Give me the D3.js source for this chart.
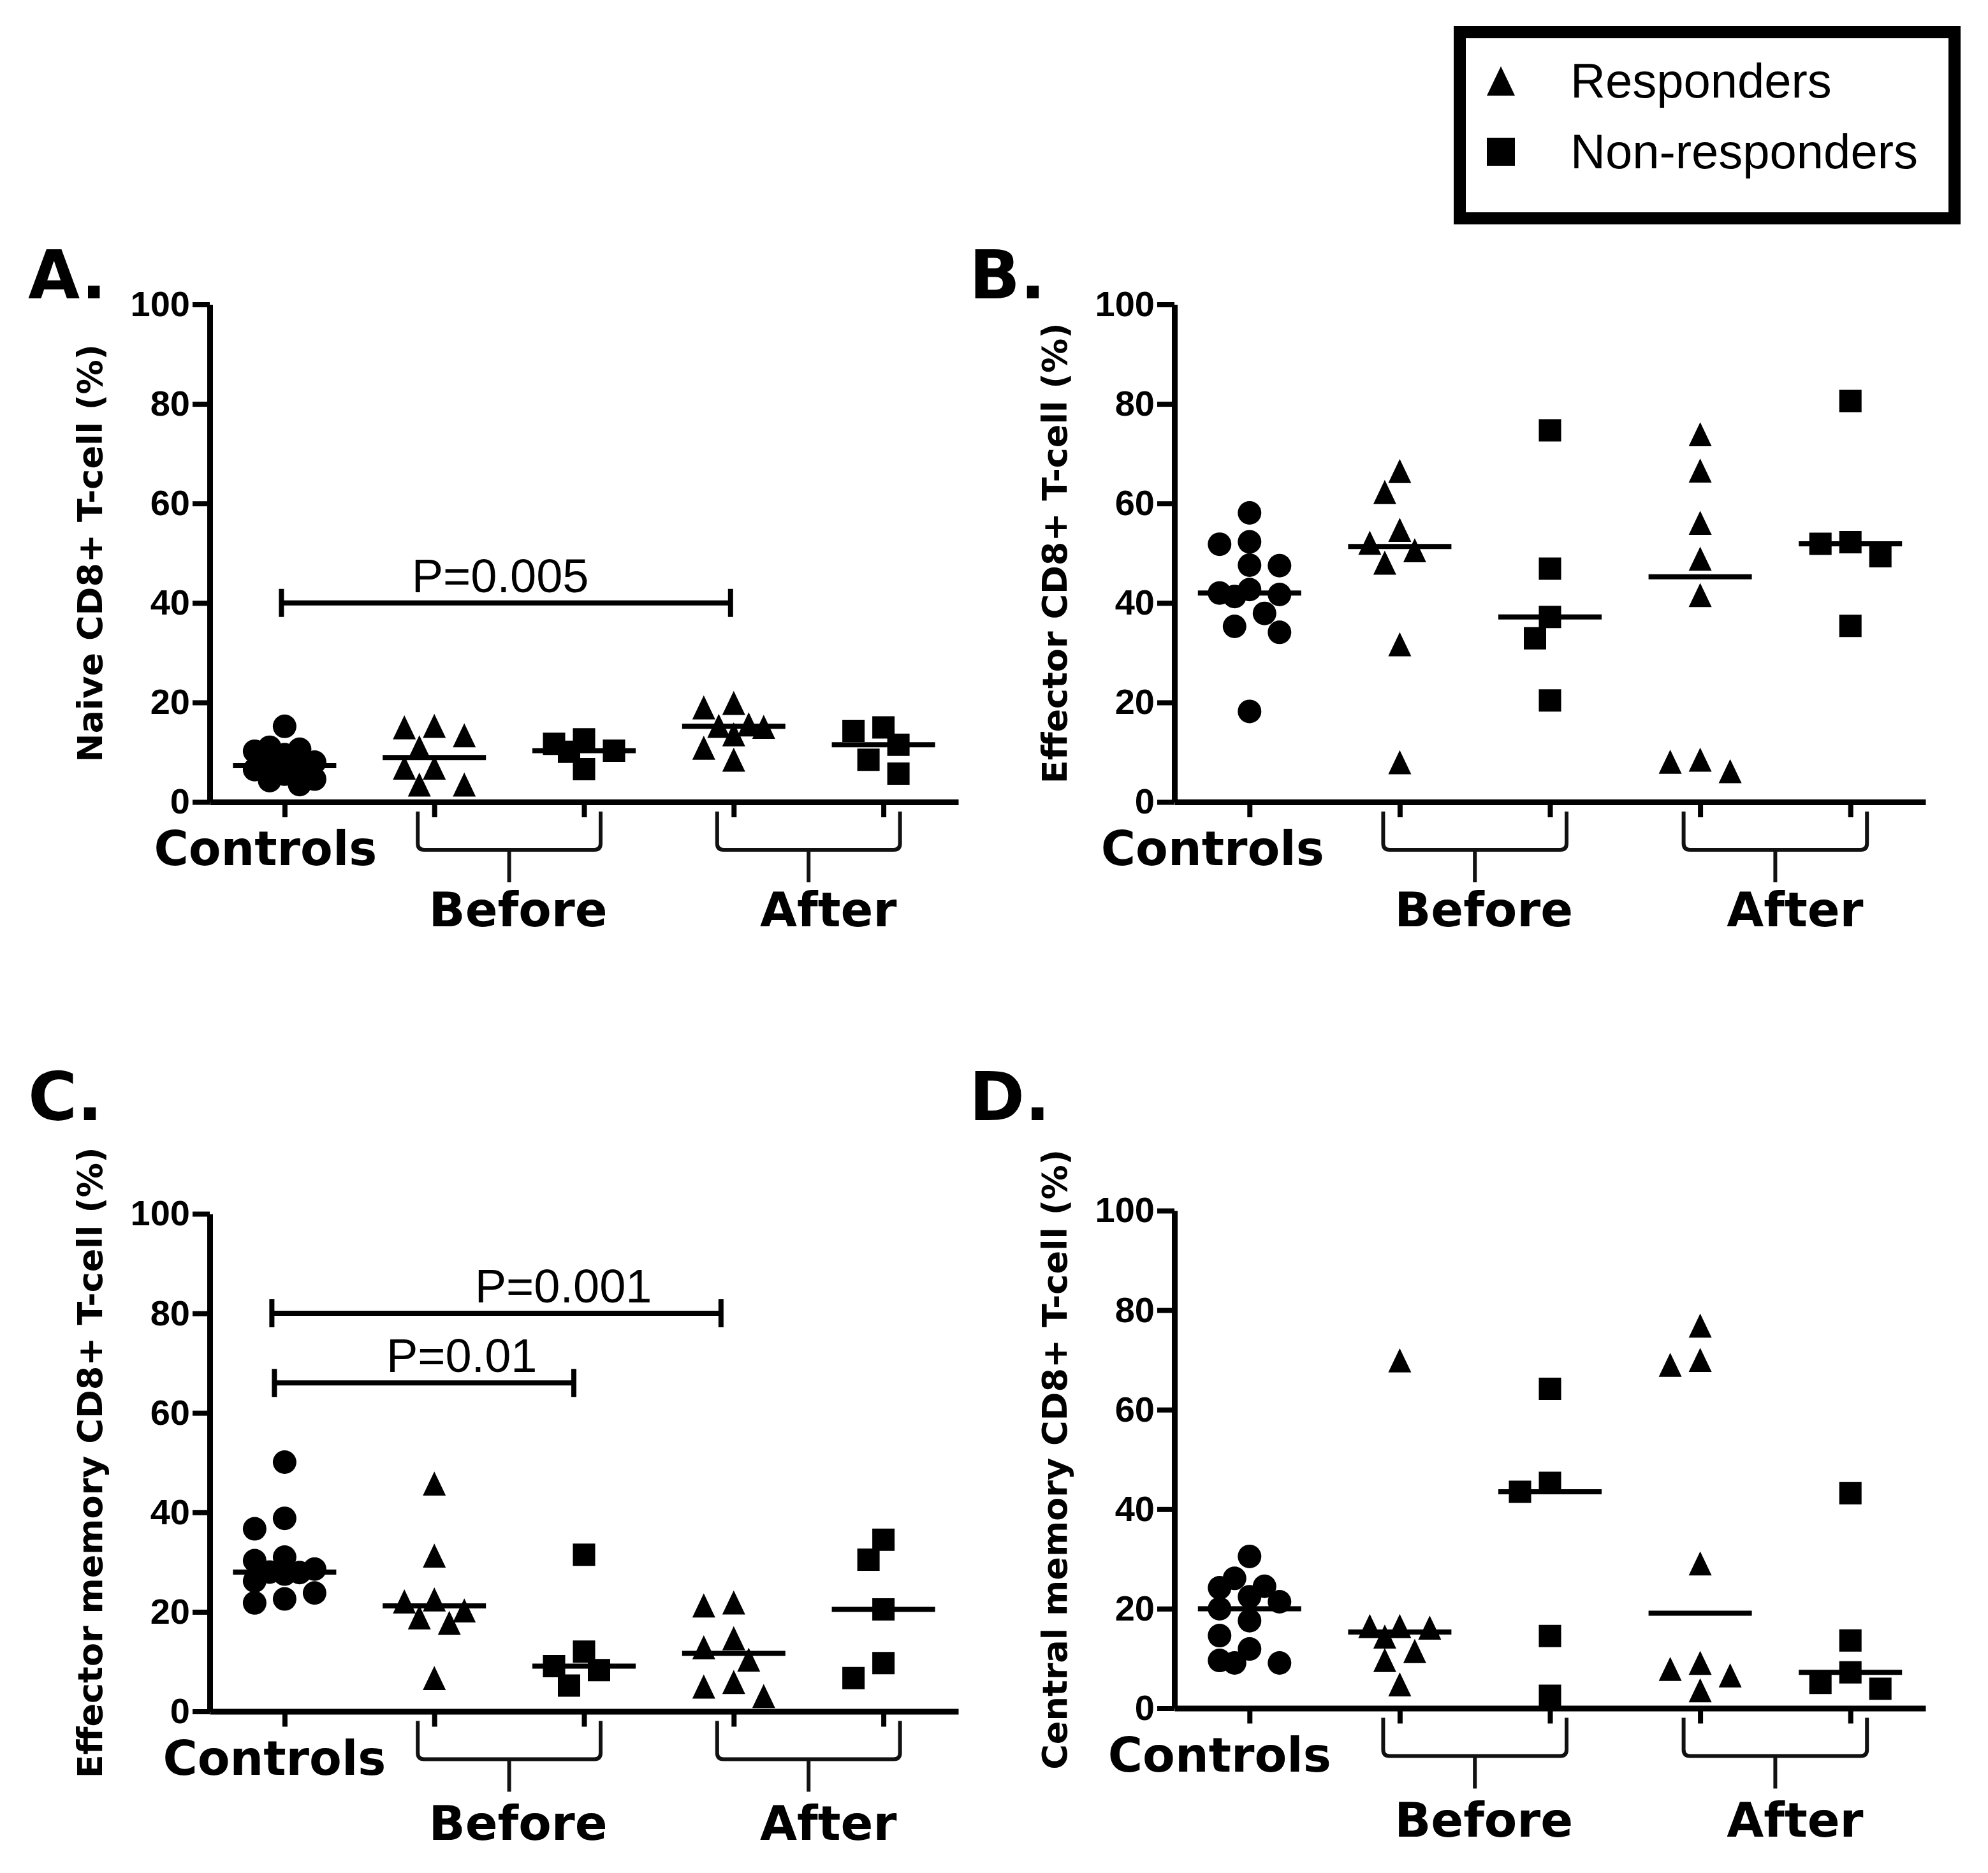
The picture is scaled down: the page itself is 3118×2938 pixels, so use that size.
<!DOCTYPE html>
<html>
<head>
<meta charset="utf-8">
<script src="https://cdn.jsdelivr.net/npm/d3@7"></script>
<style>
	body { margin: 0; background: #fff; }
</style>
</head>
<body>
<svg id="chart"></svg>
<script>
// groups along the x axis, in drawing order
const GROUPS = ['Controls', 'Before R', 'Before NR', 'After R', 'After NR']
const Y_TICKS = [0, 20, 40, 60, 80, 100]

// A. Naive CD8+ T-cell (%)
const naiveControls = [15.2, 11.0, 10.6, 10.2, 9.5, 8.0, 7.3, 7.0, 6.5, 5.6, 4.6, 4.3, 3.5]
const naiveBeforeR = [15.3, 15.0, 13.4, 11.0, 6.9, 6.9, 3.5, 3.5]
const naiveBeforeNR = [12.6, 11.7, 10.3, 10.1, 6.6]
const naiveAfterR = [19.9, 19.0, 15.6, 15.3, 15.1, 13.6, 10.9, 8.5]
const naiveAfterNR = [15.0, 14.3, 11.5, 8.5, 5.7]

// B. Effector CD8+ T-cell (%)
const effControls = [58.1, 52.3, 51.8, 47.6, 47.5, 42.7, 42.0, 41.7, 41.3, 37.9, 35.3, 34.1, 18.2]
const effBeforeR = [66.5, 62.3, 54.7, 52.1, 50.6, 48.1, 31.7, 8.0]
const effBeforeNR = [74.7, 46.9, 37.2, 32.9, 20.4]
const effAfterR = [73.9, 66.6, 56.1, 48.9, 41.6, 8.5, 8.1, 6.2]
const effAfterNR = [80.6, 52.2, 51.9, 49.4, 35.4]

// C. Effector memory CD8+ T-cell (%)
const emControls = [50.1, 38.8, 36.7, 31.0, 30.3, 28.6, 28.0, 27.9, 27.6, 26.2, 23.8, 22.6, 21.8]
const emBeforeR = [45.8, 31.3, 22.5, 22.1, 20.3, 18.9, 17.8, 6.7]
const emBeforeNR = [31.5, 12.0, 9.1, 8.3, 5.2]
const emAfterR = [21.9, 21.3, 14.7, 12.9, 10.4, 5.9, 5.0, 3.1]
const emAfterNR = [34.5, 30.5, 20.5, 9.7, 6.7]

// D. Central memory CD8+ T-cell (%)
const cmControls = [30.5, 26.1, 24.5, 24.2, 22.4, 21.4, 20.0, 17.6, 14.6, 11.9, 9.6, 9.1, 9.1]
const cmBeforeR = [69.9, 16.5, 16.5, 16.2, 14.4, 11.5, 9.7, 4.8]
const cmBeforeNR = [64.2, 45.3, 43.5, 14.5, 2.5]
const cmAfterR = [76.9, 70.0, 69.0, 29.1, 9.1, 7.9, 6.6, 3.6]
const cmAfterNR = [43.2, 13.6, 7.2, 5.1, 3.9]

// significance brackets: group index from/to, level, text
const naiveStats = [{ from: 0, to: 3, level: 40, label: 'P=0.005' }]
const emStats = [
	{ from: 0, to: 3, level: 80, label: 'P=0.001' },
	{ from: 0, to: 2, level: 66, label: 'P=0.01' }
]

const LEGEND_LABELS = ['Responders', 'Non-responders']

const W = 3118
const H = 2938
const BOLD = 'DejaVu Sans'
const PLAIN = 'Liberation Sans'

// triangle centred on its bounding box, like the Prism marker
const boxTriangle = {
	draw (ctx, size) {
		const w = Math.sqrt(size)
		const h = w * 1.05
		ctx.moveTo(0, -h / 2)
		ctx.lineTo(w / 2, h / 2)
		ctx.lineTo(-w / 2, h / 2)
		ctx.closePath()
	}
}

const MARK = 36
const symbols = [
	d3.symbol(d3.symbolCircle, Math.PI * (MARK / 2 + 0.5) ** 2),
	d3.symbol(boxTriangle, MARK * MARK),
	d3.symbol(d3.symbolSquare, (MARK - 1) ** 2),
	d3.symbol(boxTriangle, MARK * MARK),
	d3.symbol(d3.symbolSquare, (MARK - 1) ** 2)
]

const panels = [
	{
		letter: 'A.', title: 'Naive CD8+ T-cell (%)',
		series: [naiveControls, naiveBeforeR, naiveBeforeNR, naiveAfterR, naiveAfterNR],
		stats: naiveStats, statShift: [-5], statTextShift: [-9],
		left: 329, right: 1503, top: 477.5, bottom: 1258,
		letterX: 44, letterY: 468, ctrlDx: -30, groupDy: 195
	},
	{
		letter: 'B.', title: 'Effector CD8+ T-cell (%)',
		series: [effControls, effBeforeR, effBeforeNR, effAfterR, effAfterNR],
		stats: [], statShift: [], statTextShift: [],
		left: 1842, right: 3020, top: 477.5, bottom: 1258,
		letterX: 1520, letterY: 468, ctrlDx: -58, groupDy: 195
	},
	{
		letter: 'C.', title: 'Effector memory CD8+ T-cell (%)',
		series: [emControls, emBeforeR, emBeforeNR, emAfterR, emAfterNR],
		stats: emStats, statShift: [-20, -16], statTextShift: [105, 59],
		left: 329, right: 1503, top: 1904, bottom: 2684.5,
		letterX: 44, letterY: 1757, ctrlDx: -16, groupDy: 201
	},
	{
		letter: 'D.', title: 'Central memory CD8+ T-cell (%)',
		series: [cmControls, cmBeforeR, cmBeforeNR, cmAfterR, cmAfterNR],
		stats: [], statShift: [], statTextShift: [],
		left: 1842, right: 3020, top: 1899, bottom: 2679.5,
		letterX: 1520, letterY: 1757, ctrlDx: -47, groupDy: 201
	}
]

// simple beeswarm: spread close values sideways in fixed slots
const swarm = (values, y, slot, minDist) => {
	const placed = []
	const order = [...values].sort((a, b) => b - a)
	order.forEach(v => {
		const py = y(v)
		let best = 0
		let bestD = -1
		for (const k of [0, -1, 1, -2, 2]) {
			const px = k * slot
			const d = d3.min(placed, q => Math.hypot(q.x - px, q.y - py)) ?? Infinity
			if (d >= minDist) { best = px; break }
			if (d > bestD) { bestD = d; best = px }
		}
		placed.push({ x: best, y: py, v })
	})
	return placed
}

const styleAxis = sel => {
	sel.attr('font-family', null).attr('font-size', null)
	sel.select('.domain').attr('stroke', '#000').attr('stroke-width', 9)
	sel.selectAll('.tick line').attr('stroke', '#000').attr('stroke-width', 8)
}

const drawPanel = (svg, p) => {
	const g = svg.append('g')
	const x = d3.scalePoint().domain(GROUPS).range([p.left, p.right]).padding(0.5)
	const y = d3.scaleLinear().domain([0, 100]).range([p.bottom, p.top])

	// axes
	const xAxis = g.append('g')
		.attr('transform', `translate(0,${p.bottom})`)
		.call(d3.axisBottom(x).tickSize(24).tickSizeOuter(0).tickFormat(''))
		.call(styleAxis)
	xAxis.selectAll('.tick text').remove()

	g.append('g')
		.attr('transform', `translate(${p.left},0)`)
		.call(d3.axisLeft(y).tickValues(Y_TICKS).tickSize(27).tickSizeOuter(0).tickPadding(4))
		.call(styleAxis)
		.selectAll('.tick text')
		.attr('fill', '#000')
		.attr('font-family', PLAIN)
		.attr('font-weight', 'bold')
		.attr('font-size', 56)

	// y title
	g.append('text')
		.attr('transform', `translate(${p.left - 169},${(p.top + p.bottom) / 2}) rotate(-90)`)
		.attr('text-anchor', 'middle')
		.attr('font-family', BOLD)
		.attr('font-weight', 'bold')
		.attr('font-size', 54)
		.text(p.title)

	// panel letter
	g.append('text')
		.attr('x', p.letterX)
		.attr('y', p.letterY)
		.attr('font-family', BOLD)
		.attr('font-weight', 'bold')
		.attr('font-size', 105)
		.text(p.letter)

	// points and medians
	p.series.forEach((values, i) => {
		const cx = x(GROUPS[i])
		const pts = swarm(values, y, 23.5, 36)
		g.append('g')
			.selectAll('path')
			.data(pts)
			.join('path')
			.attr('d', symbols[i])
			.attr('transform', d => `translate(${cx + d.x},${d.y})`)
			.attr('fill', '#000')
		const m = d3.median(values)
		g.append('line')
			.attr('x1', cx - 81).attr('x2', cx + 81)
			.attr('y1', y(m)).attr('y2', y(m))
			.attr('stroke', '#000')
			.attr('stroke-width', 8)
	})

	// significance brackets
	p.stats.forEach((s, i) => {
		const x1 = x(GROUPS[s.from]) + p.statShift[i]
		const x2 = x(GROUPS[s.to]) + p.statShift[i]
		const yy = y(s.level)
		g.append('path')
			.attr('d', `M${x1},${yy}H${x2}M${x1},${yy - 22}V${yy + 22}M${x2},${yy - 22}V${yy + 22}`)
			.attr('fill', 'none')
			.attr('stroke', '#000')
			.attr('stroke-width', 8)
		g.append('text')
			.attr('x', (x1 + x2) / 2 + p.statTextShift[i])
			.attr('y', yy - 17)
			.attr('text-anchor', 'middle')
			.attr('font-family', PLAIN)
			.attr('font-size', 74)
			.text(s.label)
	})

	// category labels (kept just clear of the "0" tick label)
	g.append('text')
		.attr('x', x(GROUPS[0]) + p.ctrlDx)
		.attr('y', p.bottom + 99)
		.attr('text-anchor', 'middle')
		.attr('font-family', BOLD)
		.attr('font-weight', 'bold')
		.attr('font-size', 74)
		.text('Controls')

	const braces = [
		{ a: 1, b: 2, label: 'Before', dx: 14 },
		{ a: 3, b: 4, label: 'After', dx: 31 }
	]
	braces.forEach(br => {
		const xl = x(GROUPS[br.a]) - 26
		const xr = x(GROUPS[br.b]) + 26
		const xm = (xl + xr) / 2
		const yt = p.bottom + 15
		const yh = p.bottom + 75
		const yb = p.bottom + 126
		const r = 10
		g.append('path')
			.attr('d', `M${xl},${yt}V${yh - r}Q${xl},${yh} ${xl + r},${yh}H${xr - r}Q${xr},${yh} ${xr},${yh - r}V${yt}M${xm},${yh}V${yb}`)
			.attr('fill', 'none')
			.attr('stroke', '#111')
			.attr('stroke-width', 6)
		g.append('text')
			.attr('x', xm + br.dx)
			.attr('y', p.bottom + p.groupDy)
			.attr('text-anchor', 'middle')
			.attr('font-family', BOLD)
			.attr('font-weight', 'bold')
			.attr('font-size', 75)
			.text(br.label)
	})
}

const drawLegend = svg => {
	const g = svg.append('g')
	g.append('rect')
		.attr('x', 2289.5).attr('y', 50.5)
		.attr('width', 776).attr('height', 292)
		.attr('fill', '#fff')
		.attr('stroke', '#000')
		.attr('stroke-width', 19)
	const marks = [d3.symbol(boxTriangle, 44 * 44), d3.symbol(d3.symbolSquare, 44 * 44)]
	LEGEND_LABELS.forEach((label, i) => {
		const cy = 127 + i * 111
		g.append('path')
			.attr('d', marks[i])
			.attr('transform', `translate(2354,${cy})`)
			.attr('fill', '#000')
		g.append('text')
			.attr('x', 2463)
			.attr('y', cy + 26)
			.attr('font-family', PLAIN)
			.attr('font-size', 76)
			.text(label)
	})
}

const svg = d3.select('#chart')
	.attr('width', W)
	.attr('height', H)
	.attr('viewBox', `0 0 ${W} ${H}`)

svg.append('rect').attr('width', W).attr('height', H).attr('fill', '#fff')
panels.forEach(p => drawPanel(svg, p))
drawLegend(svg)
</script>
</body>
</html>
